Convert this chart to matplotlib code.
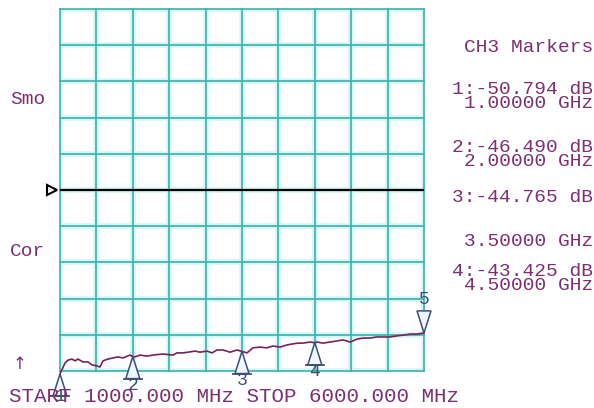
import numpy as np
import matplotlib
matplotlib.use("Agg")
import matplotlib.pyplot as plt
from matplotlib.patches import Polygon

# trace (GHz, dB)
freq_ghz = [1.0, 1.069, 1.110, 1.165, 1.206, 1.247, 1.316, 1.385, 1.440, 1.508,
            1.549, 1.591, 1.659, 1.728, 1.797, 1.865, 1.96, 2.0, 2.03, 2.099,
            2.195, 2.277, 2.415, 2.552, 2.607, 2.690, 2.758, 2.854, 2.923, 3.019,
            3.088, 3.157, 3.239, 3.335, 3.431, 3.5, 3.569, 3.651, 3.747, 3.843,
            3.926, 4.022, 4.118, 4.201, 4.269, 4.338, 4.434, 4.5, 4.530, 4.613,
            4.709, 4.805, 4.887, 4.984, 5.080, 5.162, 5.258, 5.354, 5.437, 5.533,
            5.629, 5.712, 5.808, 5.904, 6.0]
trace_db = [-50.8, -47.8, -47.0, -46.7, -47.2, -46.7, -47.5, -47.5, -48.3, -48.6,
            -48.9, -47.2, -46.7, -46.4, -46.1, -46.4, -45.6, -46.0, -46.1, -45.6,
            -45.9, -45.6, -45.3, -45.6, -45.0, -45.0, -44.8, -44.5, -44.8, -44.5,
            -45.0, -44.2, -44.2, -44.8, -44.2, -44.6, -45.0, -43.6, -43.4, -43.6,
            -43.1, -43.4, -42.8, -42.5, -42.3, -42.3, -42.0, -42.2, -42.0, -42.3,
            -42.0, -41.7, -41.4, -42.0, -41.2, -40.9, -40.9, -40.6, -40.6, -40.6,
            -40.3, -40.1, -39.8, -39.8, -39.5]

marker_ids = ["1", "2", "3", "4", "5"]
marker_ghz = [1.0, 2.0, 3.5, 4.5, 6.0]
marker_lines = ["CH3 Markers", "1:-50.794 dB", "1.00000 GHz", "2:-46.490 dB", "2.00000 GHz",
                "3:-44.765 dB", "3.50000 GHz", "4:-43.425 dB", "4.50000 GHz"]
marker_text_y = [47, 89, 103, 148, 162, 197, 241, 271, 286]

W, H = 594, 408
PURPLE = "#7d2f72"
TEAL = "#38b2aa"
GLOW = "#d3f7f7"
MKR = "#3d4f77"
MONO = "Liberation Mono"

def px(x, y):
    return x / W, 1 - y / H

fig = plt.figure(figsize=(W / 100, H / 100), dpi=100)
fig.patch.set_facecolor("white")
ax = fig.add_axes([60 / W, (H - 371) / H, 364 / W, 362 / H])
ax.set_xlim(1.0, 6.0)
ax.set_ylim(-50, 50)
ax.set_xticks([])
ax.set_yticks([])
for s in ax.spines.values():
    s.set_visible(False)

# graticule, 10 x 10, with a faint cyan halo like the screen
for gx in np.linspace(1.0, 6.0, 11):
    ax.axvline(gx, color=GLOW, lw=4, zorder=0.5)
for gy in np.linspace(-50, 50, 11):
    ax.axhline(gy, color=GLOW, lw=4, zorder=0.5)
for gx in np.linspace(1.0, 6.0, 11):
    ax.axvline(gx, color=TEAL, lw=1.2, zorder=1, clip_on=False)
for gy in np.linspace(-50, 50, 11):
    ax.axhline(gy, color=TEAL, lw=1.2, zorder=1, clip_on=False)

# reference line
ax.axhline(0, color="black", lw=1.6, zorder=2)
ax.plot([-0.022], [0.5], transform=ax.transAxes, marker=">", ms=7,
        mfc="white", mec="black", mew=1.5, clip_on=False, zorder=3)

ax.plot(freq_ghz, trace_db, color="#7a2157", lw=1.2, zorder=3, clip_on=False)

# marker triangles
marker_db = np.interp(marker_ghz, freq_ghz, trace_db)
hw, h = 0.096, 6.1
for mid, f, v in zip(marker_ids, marker_ghz, marker_db):
    if mid == "5":
        top = v + h
        tri = Polygon([[f, v], [f - hw, top], [f + hw, top]], closed=True,
                      fc="#eef8ff", ec=MKR, lw=1.1, zorder=4, clip_on=False)
        ax.add_patch(tri)
        ax.text(f, top + 0.8, mid, color=MKR, fontsize=13, family=MONO,
                ha="center", va="bottom", zorder=5)
    else:
        bot = v - h
        tri = Polygon([[f, v], [f - hw, bot], [f + hw, bot]], closed=True,
                      fc="#eef8ff", ec=MKR, lw=1.1, zorder=4, clip_on=False)
        ax.add_patch(tri)
        ax.plot([f - hw * 1.3, f + hw * 1.3], [bot, bot], color=MKR, lw=1.3,
                zorder=4, clip_on=False)
        # keep the label inside the picture (marker 1 sits under START)
        ax.text(f, max(bot - 1.9, -57.0), mid, color=MKR, fontsize=13, family=MONO,
                ha="center", va="center", zorder=5)

# left side labels
fig.text(*px(10, 99), "Smo", color=PURPLE, fontsize=14, family=MONO, va="center")
fig.text(*px(10, 252), "Cor", color=PURPLE, fontsize=14, family=MONO, va="center")
fig.text(*px(13, 364), "\u2191", color=PURPLE, fontsize=12, family="DejaVu Sans", va="center")

# marker readout column
for line, yy in zip(marker_lines, marker_text_y):
    fig.text(*px(593, yy), line, color=PURPLE, fontsize=14, family=MONO,
             ha="right", va="center")

fig.text(*px(9, 397), "START 1000.000 MHz STOP 6000.000 MHz", color=PURPLE,
         fontsize=15, family=MONO, va="center", zorder=6)

fig.savefig("out.png", dpi=100)
